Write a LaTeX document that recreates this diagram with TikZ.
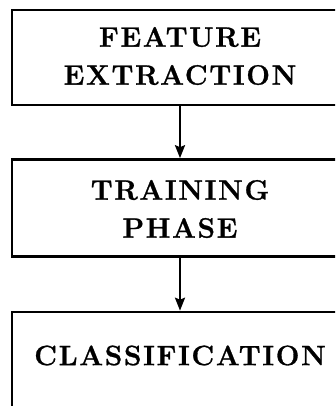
\documentclass[tikz,border=0pt]{standalone}
\usepackage{fontspec}
\setmainfont{Latin Modern Roman}
\usetikzlibrary{arrows.meta}
\begin{document}
\begin{tikzpicture}[x=1pt,y=1pt,
  box/.style={draw=black, line width=2.6pt, rectangle, inner sep=0pt},
  lbl/.style={align=center, font=\fontsize{28}{38}\selectfont\bfseries\addfontfeatures{LetterSpace=6,FakeBold=1}},
  arr/.style={line width=2.2pt, -{Stealth[length=13pt,width=10pt,inset=2pt]}}]
\useasboundingbox (0,0) rectangle (335,406);
\clip (0,0) rectangle (335,406);
\node[box, minimum width=336, minimum height=95] (fe) at (180,348.5) {};
\node[lbl] (fet) at (180,350) {FEATURE\\EXTRACTION};
\node[box, minimum width=336, minimum height=97] (tp) at (180,198) {};
\node[lbl] (tpt) at (180,197) {TRAINING\\PHASE};
\node[box, minimum width=336, minimum height=120] (cl) at (180,34) {};
\node[lbl] (clt) at (180,50.5) {CLASSIFICATION};
\draw[arr] (fe.south) -- (tp.north);
\draw[arr] (tp.south) -- (cl.north);
\end{tikzpicture}
\end{document}
